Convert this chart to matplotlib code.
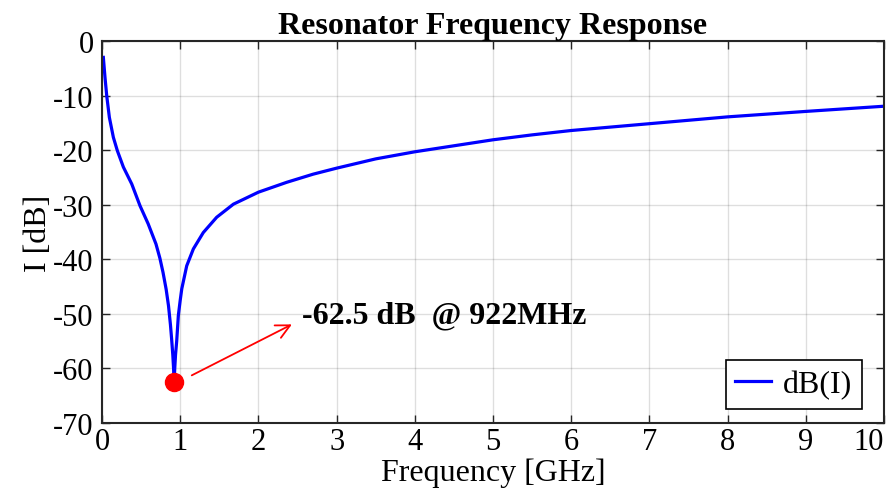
import matplotlib
matplotlib.use("Agg")
import matplotlib.pyplot as plt

# values
freq_ghz = [0.017, 0.038, 0.06, 0.094, 0.145, 0.196, 0.273, 0.38, 0.486, 0.59,
            0.69, 0.74, 0.78, 0.82, 0.85, 0.875, 0.89, 0.905, 0.915, 0.922,
            0.93, 0.94, 0.955, 0.976, 1.00, 1.02, 1.083, 1.168, 1.295, 1.466,
            1.68, 2.0, 2.36, 2.70, 3.0, 3.5, 4.0, 4.5, 5.0, 5.5,
            6.0, 7.0, 8.0, 9.0, 10.0]
level_db = [-3.0, -6.65, -10.0, -14.0, -17.65, -20.1, -23.1, -26.2, -30.2, -33.5,
            -37.2, -39.8, -42.4, -45.5, -48.5, -52.0, -54.6, -57.5, -60.0, -62.5,
            -60.0, -57.5, -55.0, -50.3, -47.5, -45.4, -41.2, -38.1, -35.1, -32.3,
            -29.9, -27.7, -25.9, -24.4, -23.3, -21.6, -20.3, -19.2, -18.1, -17.2,
            -16.4, -15.15, -13.9, -12.9, -11.95]

min_freq = 0.922
min_db = -62.5
note_text = "-62.5 dB  @ 922MHz"
arrow_start = (1.116, -61.5)
arrow_tip = (2.46, -51.7)

x_ticks = list(range(0, 11))
y_ticks = list(range(-70, 1, 10))

plt.rcParams['font.family'] = ['Liberation Serif', 'DejaVu Serif']
plt.rcParams['axes.unicode_minus'] = False

fig = plt.figure(figsize=(8.91, 5.02), dpi=100)
ax = fig.add_axes([0.1145, 0.1554, 0.8777, 0.7609])

ax.plot(freq_ghz, level_db, color='#0000ff', lw=2.3, label='dB(I)')
ax.plot([min_freq], [min_db], 'o', color='#ff0000', ms=13, zorder=5)
ax.annotate('', xy=arrow_tip, xytext=arrow_start,
            arrowprops=dict(arrowstyle='->,head_length=1.0,head_width=0.5',
                            color='#ff0000', lw=1.3))
ax.text(2.56, -50.2, note_text, fontsize=23, fontweight='bold', va='center', ha='left')

ax.set_xlim(0, 10)
ax.set_ylim(-70, 0)
ax.set_xticks(x_ticks)
ax.set_yticks(y_ticks)
ax.grid(True, color='#000000', alpha=0.13, lw=1.0)
ax.tick_params(direction='in', length=6, width=1.0, labelsize=22, color='#262626',
               top=True, right=True)
ax.tick_params(axis='x', pad=3)
ax.tick_params(axis='y', pad=6)
ax.get_xticklabels()[-1].set_horizontalalignment('right')
for s in ax.spines.values():
    s.set_color('#262626')
    s.set_linewidth(1.5)

ax.set_xlabel('Frequency [GHz]', fontsize=23, labelpad=1)
ax.set_ylabel('I [dB]', fontsize=23, labelpad=0)
ax.set_title('Resonator Frequency Response', fontsize=23, fontweight='bold', pad=6)

leg = ax.legend(loc='lower right', bbox_to_anchor=(0.972, 0.037), fontsize=23,
                handlelength=1.1, handletextpad=0.4, borderpad=0.3,
                fancybox=False, framealpha=1, borderaxespad=0)
leg.get_frame().set_edgecolor('#000000')
leg.get_frame().set_linewidth(1.2)

fig.savefig('out.png', dpi=100)
